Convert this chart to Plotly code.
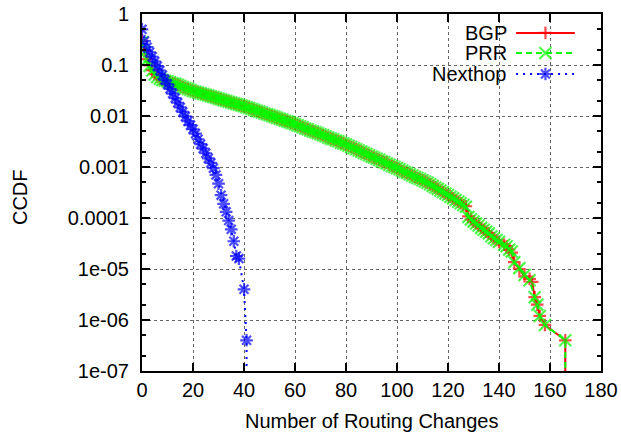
import plotly.graph_objects as go

# ---------------- data ----------------
prr_x = list(range(0, 141)) + [142, 143, 144, 145, 146, 148, 150, 152, 154, 155, 156, 158, 166, 166]
prr_y = [
    0.28, 0.18, 0.126, 0.096, 0.078, 0.065, 0.058, 0.054, 0.051, 0.049,
    0.048, 0.046, 0.044, 0.043, 0.041, 0.039, 0.037, 0.0355, 0.034, 0.0324,
    0.0310, 0.0300, 0.0289, 0.0279, 0.0270, 0.0261, 0.0252, 0.0243, 0.0235, 0.0227,
    0.0219, 0.0212, 0.0204, 0.0197, 0.0191, 0.0184, 0.0178, 0.0172, 0.0166, 0.0160,
    0.0155, 0.0149, 0.0143, 0.0137, 0.0132, 0.0127, 0.0122, 0.0117, 0.0112, 0.0108,
    0.0104, 0.0100, 0.0096, 0.0092, 0.0088, 0.0085, 0.0081, 0.0078, 0.0075, 0.0072,
    0.0069, 0.0066, 0.0063, 0.0060, 0.0057, 0.0055, 0.0052, 0.0050, 0.0048, 0.0046,
    0.0044, 0.0042, 0.0040, 0.0038, 0.0036, 0.0035, 0.0033, 0.0032, 0.0030, 0.0029,
    0.00275, 0.00261, 0.00247, 0.00234, 0.00222, 0.00211, 0.00200, 0.00189, 0.00180, 0.00170,
    0.00161, 0.00153, 0.00145, 0.00138, 0.00130, 0.00124, 0.00117, 0.00111, 0.00105, 0.00100,
    0.00095, 0.00090, 0.00085, 0.00080, 0.00076, 0.00072, 0.00068, 0.00064, 0.00061, 0.00058,
    0.00055, 0.00052, 0.00049, 0.000457, 0.000427, 0.000398, 0.000372, 0.000347, 0.000324, 0.000302,
    0.000282, 0.000262, 0.000243, 0.000225, 0.000209, 0.000194, 0.000180, 0.000166, 0.000105, 0.000094,
    0.000085, 0.000078, 0.000071, 0.000064, 0.000059, 0.000054, 0.000050, 0.000044, 0.000040, 0.000037,
    0.000034,
    0.000030, 0.000028, 0.000024, 0.000022, 0.0000136, 0.0000104, 0.0000076, 0.0000060,
    0.0000028, 0.0000020, 0.0000012, 0.0000008, 0.0000004, 1e-9,
]

bgp_x = list(range(0, 141)) + [142, 143, 144, 145, 146, 148, 150, 152, 153, 154, 155, 156, 158, 166, 166]
bgp_y = [
    0.30, 0.19, 0.13, 0.098, 0.079, 0.066, 0.059, 0.054, 0.051, 0.049,
    0.048, 0.046, 0.044, 0.043, 0.041, 0.039, 0.037, 0.0355, 0.034, 0.0324,
    0.0310, 0.0300, 0.0289, 0.0279, 0.0270, 0.0261, 0.0252, 0.0243, 0.0235, 0.0227,
    0.0219, 0.0212, 0.0204, 0.0197, 0.0191, 0.0184, 0.0178, 0.0172, 0.0166, 0.0160,
    0.0155, 0.0149, 0.0143, 0.0137, 0.0132, 0.0127, 0.0122, 0.0117, 0.0112, 0.0108,
    0.0104, 0.0100, 0.0096, 0.0092, 0.0088, 0.0085, 0.0081, 0.0078, 0.0075, 0.0072,
    0.0069, 0.0066, 0.0063, 0.0060, 0.0057, 0.0055, 0.0052, 0.0050, 0.0048, 0.0046,
    0.0044, 0.0042, 0.0040, 0.0038, 0.0036, 0.0035, 0.0033, 0.0032, 0.0030, 0.0029,
    0.00275, 0.00261, 0.00247, 0.00234, 0.00222, 0.00211, 0.00200, 0.00189, 0.00180, 0.00170,
    0.00161, 0.00153, 0.00145, 0.00138, 0.00130, 0.00124, 0.00122, 0.00111, 0.00105, 0.00100,
    0.00095, 0.00090, 0.00082, 0.00080, 0.00076, 0.00072, 0.00068, 0.00064, 0.00061, 0.00058,
    0.00055, 0.00052, 0.00049, 0.000457, 0.000427, 0.000398, 0.000372, 0.000347, 0.000324, 0.000302,
    0.000282, 0.000262, 0.000243, 0.000225, 0.000209, 0.000194, 0.000180, 0.000170, 0.000108, 0.000094,
    0.000085, 0.000078, 0.000071, 0.000064, 0.000059, 0.000054, 0.000050, 0.000044, 0.000040, 0.000037,
    0.000034,
    0.000030, 0.000028, 0.000024, 0.000021, 0.0000136, 0.0000100, 0.0000072, 0.0000064, 0.0000056,
    0.0000028, 0.0000020, 0.0000012, 0.0000008, 0.0000004, 1e-9,
]

nexthop_x = list(range(0, 39)) + [40, 41, 41]
nexthop_y = [
    0.50, 0.295, 0.224, 0.178, 0.145, 0.117, 0.095, 0.078, 0.063, 0.051,
    0.042, 0.034, 0.0275, 0.0224, 0.0182, 0.0148, 0.0120, 0.0098, 0.0079, 0.0066,
    0.0055, 0.0045, 0.0035, 0.0028, 0.0023, 0.00186, 0.00148, 0.00120, 0.00095, 0.00070,
    0.00047, 0.00028, 0.00019, 0.000132, 0.000089, 0.000060, 0.000035, 0.000018, 0.000016,
    0.0000040, 0.0000004, 1e-9,
]

series_names = ["BGP", "PRR", "Nexthop"]
y_tick_vals = [1, 0.1, 0.01, 0.001, 0.0001, 1e-5, 1e-6, 1e-7]
y_tick_text = ["1", "0.1", "0.01", "0.001", "0.0001", "1e-05", "1e-06", "1e-07"]
y_minor_vals = [m * 10.0 ** e for e in range(-7, 0) for m in (2, 5)]
x_tick_vals = list(range(0, 181, 20))

# ---------------- styles ----------------
FONT = "Liberation Sans, Arial, Helvetica, sans-serif"
FS = 20
RED, GREEN, BLUE = "#ff0000", "#00ff00", "#0000ff"

styles = {
    "BGP": dict(color=RED, dash="solid", symbol="cross-thin", size=9),
    "PRR": dict(color=GREEN, dash="6px,4px", symbol="x-thin", size=12),
    "Nexthop": dict(color=BLUE, dash="2px,5px", symbol="asterisk", size=10.5),
}

fig = go.Figure()


def add_series(name, xs, ys):
    st = styles[name]
    sizes = [st["size"]] * (len(xs) - 1) + [0]
    fig.add_trace(go.Scatter(
        x=xs, y=ys, mode="lines+markers", name=name, showlegend=False,
        line=dict(color=st["color"], width=2, dash=st["dash"]),
        marker=dict(symbol=st["symbol"], size=sizes, color=st["color"],
                    line=dict(color=st["color"], width=2.2)),
    ))


add_series("BGP", bgp_x, bgp_y)
add_series("PRR", prr_x, prr_y)
add_series("Nexthop", nexthop_x, nexthop_y)

# ---------------- custom gnuplot-style key (text left, sample right) ----------------
key_rows = [0.947, 0.891, 0.832]
key_x0, key_x1, key_xm, key_text_x = 0.815, 0.943, 0.879, 0.80
for name, ky in zip(series_names, key_rows):
    st = styles[name]
    fig.add_trace(go.Scatter(
        x=[key_x0, key_xm, key_x1], y=[ky, ky, ky], xaxis="x2", yaxis="y2",
        mode="lines+markers", showlegend=False, hoverinfo="skip",
        line=dict(color=st["color"], width=2, dash=st["dash"]),
        marker=dict(symbol=st["symbol"], size=[0, st["size"], 0], color=st["color"],
                    line=dict(color=st["color"], width=2.2)),
    ))
    fig.add_annotation(x=key_text_x, y=ky, xref="paper", yref="paper", text=name,
                       showarrow=False, xanchor="right", yanchor="middle",
                       font=dict(family=FONT, size=FS, color="black"))

fig.add_shape(type="rect", xref="paper", yref="paper", x0=0.6, x1=0.996, y0=0.807, y1=0.996,
              fillcolor="white", line=dict(width=0), layer="between")

axis_common = dict(
    showline=True, linecolor="black", linewidth=2, mirror="ticks",
    ticks="inside", tickcolor="black", tickwidth=1.5, ticklen=8,
    showgrid=True, gridcolor="#666666", gridwidth=1, griddash="dot",
    zeroline=False, automargin=False,
    tickfont=dict(family=FONT, size=FS, color="black"),
)

fig.update_layout(
    width=621, height=439,
    margin=dict(l=142, r=20, t=14, b=68, autoexpand=False),
    paper_bgcolor="white", plot_bgcolor="white",
    font=dict(family=FONT, size=FS, color="black"),
    xaxis=dict(range=[0, 180], tickmode="array", tickvals=x_tick_vals,
               ticklabelstandoff=0, **axis_common),
    yaxis=dict(type="log", range=[-7, 0], tickmode="array", tickvals=y_tick_vals,
               ticktext=y_tick_text, ticklabelstandoff=7,
               minor=dict(tickmode="array", tickvals=y_minor_vals, ticks="inside",
                          ticklen=4, tickcolor="black", tickwidth=1.5, showgrid=False),
               **axis_common),
    xaxis2=dict(range=[0, 1], overlaying="x", anchor="y2", visible=False),
    yaxis2=dict(range=[0, 1], overlaying="y", anchor="x2", visible=False),
)

fig.add_annotation(x=0.5, y=-0.140, xref="paper", yref="paper",
                   text="Number of Routing Changes", showarrow=False,
                   xanchor="center", yanchor="middle",
                   font=dict(family=FONT, size=FS, color="black"))
fig.add_annotation(x=-0.266, y=0.487, xref="paper", yref="paper", text="CCDF",
                   showarrow=False, textangle=-90, xanchor="center", yanchor="middle",
                   font=dict(family=FONT, size=FS, color="black"))

fig.write_html("out.html")
